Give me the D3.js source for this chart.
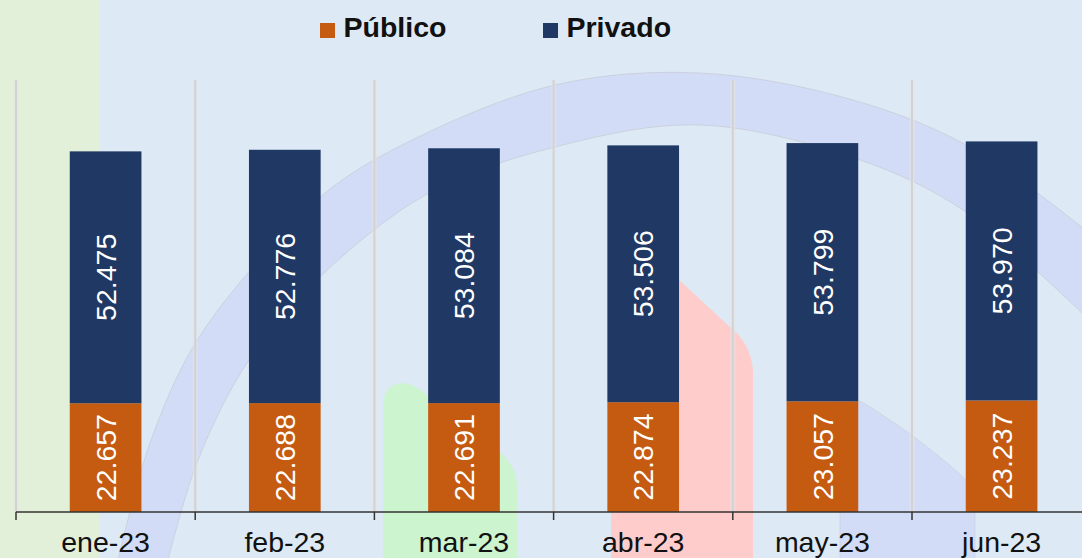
<!DOCTYPE html>
<html>
<head>
<meta charset="utf-8">
<script src="https://cdn.jsdelivr.net/npm/d3@7"></script>
<style>
  html, body { margin: 0; padding: 0; background: #dde9f5; }
  svg { display: block; }
</style>
</head>
<body>
<svg id="chart" width="1082" height="558"></svg>
<script>
const categories = ["ene-23", "feb-23", "mar-23", "abr-23", "may-23", "jun-23"];
const publico = [22.657, 22.688, 22.691, 22.874, 23.057, 23.237];
const privado = [52.475, 52.776, 53.084, 53.506, 53.799, 53.970];
const seriesNames = ["Público", "Privado"];
const seriesColors = ["#c55a11", "#203864"];

const W = 1082, H = 558;
const FONT = "Liberation Sans, Arial, sans-serif";
const svg = d3.select("#chart");

// background
svg.append("rect").attr("width", W).attr("height", H).attr("fill", "#dde9f5");
svg.append("rect").attr("x", 0).attr("y", 0).attr("width", 100).attr("height", H).attr("fill", "#e2efd9");

// decorative shapes
const deco = svg.append("g");
const outer = [[118,560],[150,443],[193,347],[253,267],[325,193],[406,143],[555,85],[700,73],[853,100],[970,147],[1084,229]];
const inner = [[168,560],[198,460],[249,360],[322,275],[429,193],[555,147],[700,125],[860,160],[963,210],[1084,315]];
const curve = d3.line().curve(d3.curveCatmullRom);
const ringPath = curve(outer) + "L" + curve(inner.slice().reverse()).slice(1) + "Z";
deco.append("path").attr("d", ringPath).attr("fill", "#d3dcf6").attr("stroke", "#c9ccd8").attr("stroke-width", 0.8);

// lower-right band piece
deco.append("path")
  .attr("d", "M840,400 L862,402 C900,425 940,455 966,480 L975,495 L975,560 L840,560 Z")
  .attr("fill", "#d3dcf6").attr("stroke", "#c9ccd8").attr("stroke-width", 0.6);

// green blob
deco.append("path")
  .attr("d", "M383,560 L383,405 Q384,384 403,383 Q418,385 430,398 L500,452 Q515,465 517,482 L517,560 Z")
  .attr("fill", "#ccf4cf");
// red blob
deco.append("path")
  .attr("d", "M611,560 L611,290 L679,280 L730,327 Q752,345 753,372 L753,560 Z")
  .attr("fill", "#ffcccc");

// scales
const x0 = 16, x1 = 16 + 179.2 * categories.length;
const xCat = d3.scaleBand().domain(categories).range([x0, x1]).padding(0);
const xBar = d3.scaleBand().domain(categories).range([x0, x1]).paddingInner(0.6).paddingOuter(0.3);
const y = d3.scaleLinear().domain([0, 90]).range([512, 80]);

// vertical gridlines at category boundaries
const bounds = categories.map(c => xCat(c)).concat([x1]);
const grid = svg.append("g");
bounds.forEach(b => {
  grid.append("line").attr("x1", b).attr("x2", b).attr("y1", y(90)).attr("y2", y(0))
    .attr("stroke", "#e6e6e6").attr("stroke-width", 5).attr("opacity", 0.5);
  grid.append("line").attr("x1", b).attr("x2", b).attr("y1", y(90)).attr("y2", y(0))
    .attr("stroke", "#d2d2d2").attr("stroke-width", 2);
});

// stacked bars
const stackData = categories.map((c, i) => ({cat: c, "Público": publico[i], "Privado": privado[i]}));
const stacked = d3.stack().keys(seriesNames)(stackData);
const bars = svg.append("g");
stacked.forEach((layer, li) => {
  const g = bars.append("g");
  g.selectAll("rect").data(layer).join("rect")
    .attr("x", d => xBar(d.data.cat))
    .attr("width", xBar.bandwidth())
    .attr("y", d => y(d[1]))
    .attr("height", d => y(d[0]) - y(d[1]))
    .attr("fill", seriesColors[li]);
  g.selectAll("text").data(layer).join("text")
    .attr("transform", d => {
      const cx = xBar(d.data.cat) + xBar.bandwidth() / 2;
      const cy = (y(d[0]) + y(d[1])) / 2;
      return `translate(${cx},${cy}) rotate(-90)`;
    })
    .attr("text-anchor", "middle")
    .attr("dy", "0.36em")
    .attr("fill", "#ffffff")
    .attr("font-family", FONT)
    .attr("font-size", 28.5)
    .text(d => (d[1] - d[0]).toFixed(3));
});

// x axis
const axis = svg.append("g");
axis.append("line").attr("x1", x0).attr("x2", W).attr("y1", y(0)).attr("y2", y(0))
  .attr("stroke", "#333333").attr("stroke-width", 1.5);
bounds.forEach(b => {
  axis.append("line").attr("x1", b).attr("x2", b).attr("y1", y(0)).attr("y2", y(0) + 8)
    .attr("stroke", "#333333").attr("stroke-width", 1.5);
});
axis.selectAll("text.cat").data(categories).join("text")
  .attr("class", "cat")
  .attr("x", c => xCat(c) + xCat.bandwidth() / 2)
  .attr("y", 552)
  .attr("text-anchor", "middle")
  .attr("fill", "#111111")
  .attr("font-family", FONT)
  .attr("font-size", 28.5)
  .text(c => c);

// legend
const legend = svg.append("g");
const legendX = [320, 543];
seriesNames.forEach((name, i) => {
  legend.append("rect").attr("x", legendX[i]).attr("y", 23).attr("width", 15).attr("height", 15)
    .attr("fill", seriesColors[i]);
  legend.append("text").attr("x", legendX[i] + 23.5).attr("y", 37)
    .attr("fill", "#111111")
    .attr("font-family", FONT)
    .attr("font-weight", "bold")
    .attr("font-size", 28.5)
    .text(name);
});
</script>
</body>
</html>
